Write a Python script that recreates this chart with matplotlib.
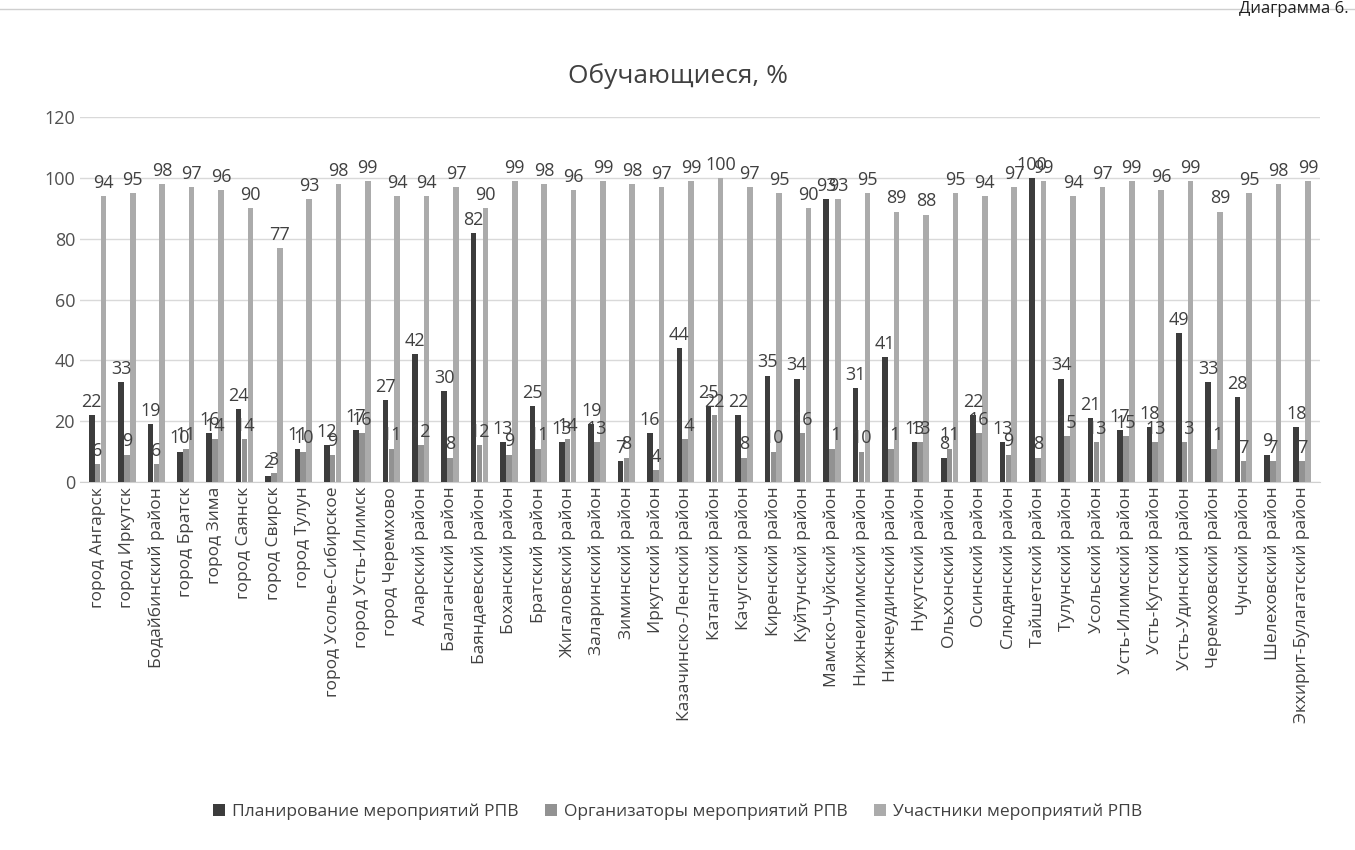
import matplotlib.pyplot as plt
import numpy as np

# data
districts = [
    "город Ангарск", "город Иркутск", "Бодайбинский район", "город Братск", "город Зима",
    "город Саянск", "город Свирск", "город Тулун", "город Усолье-Сибирское", "город Усть-Илимск",
    "город Черемхово", "Аларский район", "Балаганский район", "Баяндаевский район",
    "Боханский район", "Братский район", "Жигаловский район", "Заларинский район",
    "Зиминский район", "Иркутский район", "Казачинско-Ленский район", "Катангский район",
    "Качугский район", "Киренский район", "Куйтунский район", "Мамско-Чуйский район",
    "Нижнеилимский район", "Нижнеудинский район", "Нукутский район", "Ольхонский район",
    "Осинский район", "Слюдянский район", "Тайшетский район", "Тулунский район",
    "Усольский район", "Усть-Илимский район", "Усть-Кутский район", "Усть-Удинский район",
    "Черемховский район", "Чунский район", "Шелеховский район", "Экхирит-Булагатский район",
]
planning = [22, 33, 19, 10, 16, 24, 2, 11, 12, 17, 27, 42, 30, 82, 13, 25, 13, 19, 7, 16, 44,
            25, 22, 35, 34, 93, 31, 41, 13, 8, 22, 13, 100, 34, 21, 17, 18, 49, 33, 28, 9, 18]
organizers = [6, 9, 6, 11, 14, 14, 3, 10, 9, 16, 11, 12, 8, 12, 9, 11, 14, 13, 8, 4, 14,
              22, 8, 10, 16, 11, 10, 11, 13, 11, 16, 9, 8, 15, 13, 15, 13, 13, 11, 7, 7, 7]
participants = [94, 95, 98, 97, 96, 90, 77, 93, 98, 99, 94, 94, 97, 90, 99, 98, 96, 99, 98, 97, 99,
                100, 97, 95, 90, 93, 95, 89, 88, 95, 94, 97, 99, 94, 97, 99, 96, 99, 89, 95, 98, 99]
series_names = ["Планирование мероприятий РПВ", "Организаторы мероприятий РПВ",
                "Участники мероприятий РПВ"]
colors = ["#3c3c3c", "#929292", "#ababab"]

plt.rcParams['font.family'] = ['Open Sans', 'DejaVu Sans']

fig = plt.figure(figsize=(13.55, 8.5), dpi=100)
ax = fig.add_axes([0.059, 0.433, 0.915, 0.429])

x = np.arange(len(districts))
w = 0.19
for i, (vals, name, c) in enumerate(zip([planning, organizers, participants], series_names, colors)):
    bars = ax.bar(x + (i - 1) * w * 1.05, vals, w, color=c, label=name, zorder=3)
    txts = ax.bar_label(bars, labels=[str(v) for v in vals], fontsize=13, color="#404040", padding=3)
    for t in txts:
        t.set_zorder(6)

ax.set_xlim(-0.6, len(districts) - 0.4)
ax.set_ylim(0, 120)
ax.set_yticks(range(0, 121, 20))
ax.set_xticks(x)
ax.set_xticklabels(districts, rotation=90, fontsize=12.5, color="#404040")
ax.tick_params(axis='y', labelsize=13, colors="#505050", length=0)
ax.tick_params(axis='x', length=0)
ax.grid(axis='y', color="#d9d9d9", linewidth=1, zorder=0)
for s in ["top", "right", "left"]:
    ax.spines[s].set_visible(False)
ax.spines["bottom"].set_color("#d0d0d0")

fig.text(0.5, 0.91, "Обучающиеся, %", ha="center", va="center", fontsize=19, color="#404040")
fig.text(0.995, 0.999, "Диаграмма 6.", ha="right", va="top", fontsize=12, color="#202020")
fig.add_artist(plt.Line2D([0, 1], [0.99, 0.99], color="#cfcfcf", linewidth=1))

fig.legend(loc="center", bbox_to_anchor=(0.5, 0.045), ncol=3, frameon=False, fontsize=12.5,
           handlelength=0.7, handleheight=0.7, columnspacing=1.5, handletextpad=0.4,
           labelcolor="#404040")

fig.savefig("out.png", dpi=100)
